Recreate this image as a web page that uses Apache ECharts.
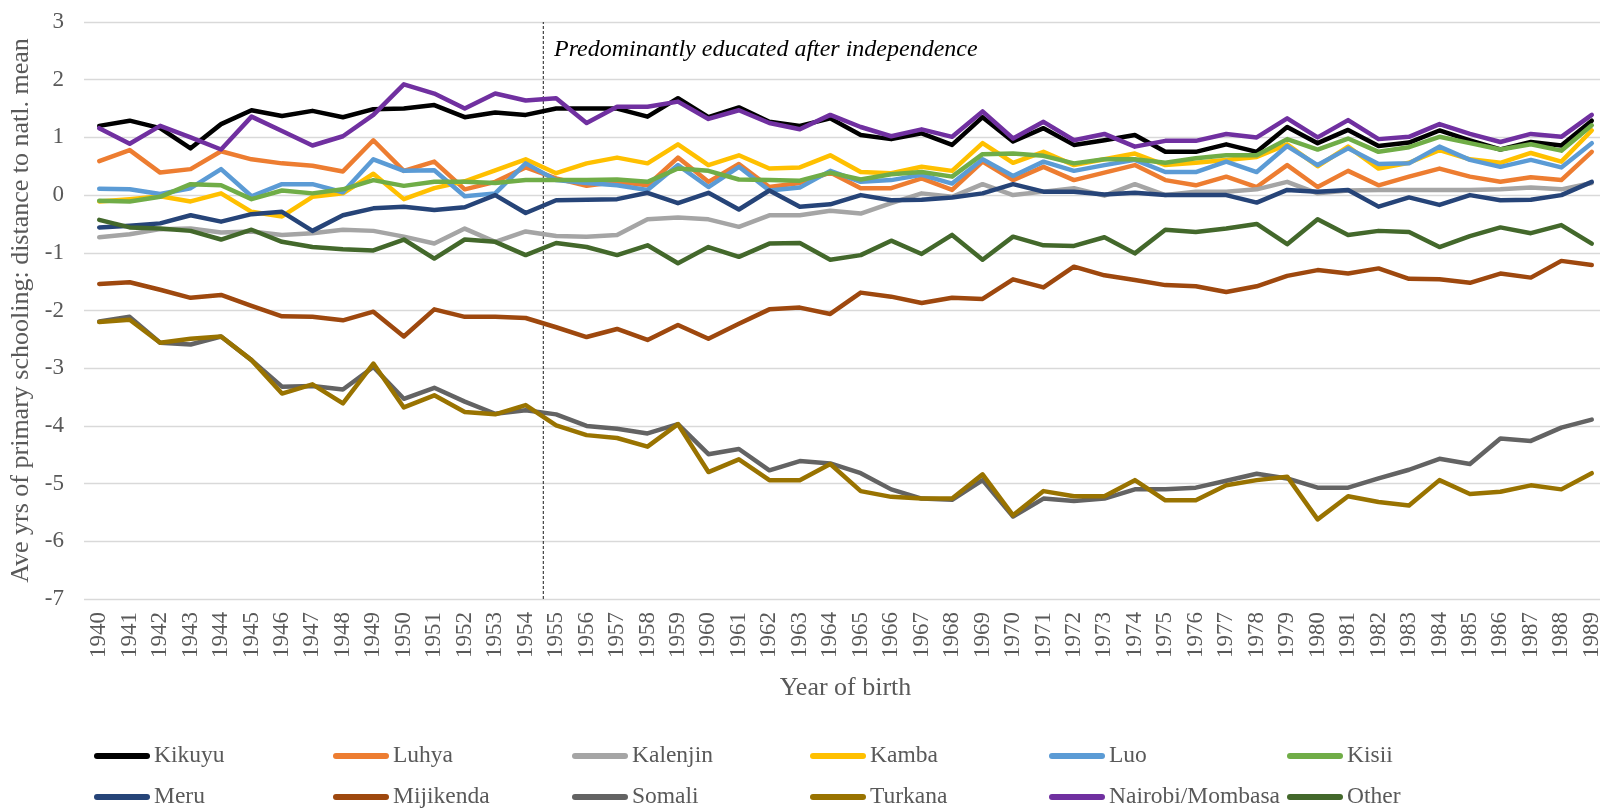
<!DOCTYPE html>
<html><head><meta charset="utf-8">
<script src="https://cdn.jsdelivr.net/npm/echarts@6/dist/echarts.min.js"></script>
<style>html,body{margin:0;padding:0;background:#fff}#c{width:1600px;height:808px}</style>
</head><body><div id="c"></div>
<script>
const years = ['1940','1941','1942','1943','1944','1945','1946','1947','1948','1949',
'1950','1951','1952','1953','1954','1955','1956','1957','1958','1959',
'1960','1961','1962','1963','1964','1965','1966','1967','1968','1969',
'1970','1971','1972','1973','1974','1975','1976','1977','1978','1979',
'1980','1981','1982','1983','1984','1985','1986','1987','1988','1989'];

const kikuyu = [1.2,1.29,1.16,0.81,1.23,1.47,1.37,1.46,1.35,1.49,1.5,1.56,1.35,1.43,1.39,
1.5,1.5,1.5,1.36,1.68,1.35,1.52,1.27,1.2,1.33,1.04,0.97,1.07,0.87,1.35,0.93,
1.16,0.87,0.95,1.04,0.75,0.75,0.88,0.75,1.18,0.9,1.13,0.85,0.91,1.12,0.95,0.79,0.92,0.86,1.29];
const luhya = [0.59,0.78,0.39,0.45,0.76,0.62,0.55,0.51,0.41,0.95,0.42,0.58,0.1,0.23,0.48,
0.29,0.16,0.23,0.17,0.65,0.23,0.54,0.14,0.21,0.39,0.12,0.12,0.29,0.09,0.58,0.26,
0.49,0.26,0.39,0.52,0.26,0.17,0.32,0.14,0.52,0.14,0.42,0.17,0.32,0.46,0.32,0.23,0.31,0.26,0.75];
const kalenjin = [-0.73,-0.68,-0.59,-0.58,-0.65,-0.63,-0.69,-0.66,-0.6,-0.62,-0.72,-0.84,-0.58,-0.81,-0.63,
-0.71,-0.72,-0.69,-0.42,-0.39,-0.42,-0.55,-0.35,-0.35,-0.27,-0.32,-0.14,0.03,-0.03,0.19,0.0,
0.06,0.12,-0.01,0.19,0.0,0.06,0.06,0.1,0.23,0.03,0.08,0.09,0.09,0.09,0.09,0.1,0.13,0.1,0.21];
const kamba = [-0.11,-0.07,-0.02,-0.11,0.03,-0.29,-0.37,-0.03,0.03,0.37,-0.07,0.12,0.24,0.43,0.62,
0.38,0.55,0.65,0.55,0.88,0.52,0.69,0.46,0.48,0.69,0.4,0.38,0.49,0.42,0.9,0.56,
0.75,0.52,0.62,0.72,0.52,0.56,0.61,0.66,0.88,0.5,0.84,0.46,0.56,0.78,0.62,0.56,0.73,0.58,1.12];
const luo = [0.11,0.1,0.02,0.12,0.45,-0.02,0.19,0.19,0.05,0.62,0.42,0.43,-0.02,0.03,0.55,
0.26,0.21,0.17,0.09,0.52,0.14,0.49,0.08,0.13,0.42,0.23,0.26,0.35,0.2,0.62,0.33,
0.58,0.42,0.52,0.61,0.4,0.4,0.58,0.4,0.85,0.52,0.81,0.54,0.55,0.84,0.61,0.49,0.61,0.48,0.9];
const kisii = [-0.1,-0.11,-0.03,0.19,0.17,-0.07,0.08,0.03,0.1,0.26,0.16,0.23,0.23,0.21,0.26,
0.26,0.26,0.27,0.23,0.46,0.42,0.27,0.26,0.25,0.39,0.27,0.36,0.4,0.32,0.71,0.72,
0.68,0.55,0.62,0.62,0.56,0.64,0.69,0.69,0.97,0.79,0.98,0.75,0.83,1.01,0.9,0.79,0.88,0.77,1.21];
const meru = [-0.56,-0.53,-0.49,-0.35,-0.46,-0.33,-0.29,-0.62,-0.35,-0.23,-0.2,-0.26,-0.21,0.0,-0.31,
-0.09,-0.08,-0.07,0.04,-0.14,0.04,-0.25,0.08,-0.2,-0.16,0.0,-0.09,-0.08,-0.04,0.03,0.19,
0.06,0.06,0.01,0.04,0.0,0.0,0.0,-0.13,0.09,0.06,0.09,-0.2,-0.04,-0.17,0.0,-0.09,-0.08,0.0,0.23];
const mijikenda = [-1.54,-1.51,-1.64,-1.78,-1.73,-1.92,-2.1,-2.11,-2.17,-2.02,-2.45,-1.98,-2.11,-2.11,-2.13,
-2.29,-2.46,-2.32,-2.51,-2.25,-2.49,-2.23,-1.98,-1.95,-2.06,-1.69,-1.76,-1.87,-1.78,-1.8,-1.46,
-1.6,-1.24,-1.39,-1.47,-1.56,-1.58,-1.68,-1.58,-1.4,-1.3,-1.36,-1.27,-1.45,-1.46,-1.52,-1.36,-1.43,-1.14,-1.21];
const somali = [-2.19,-2.11,-2.56,-2.59,-2.45,-2.86,-3.32,-3.31,-3.37,-2.98,-3.53,-3.34,-3.58,-3.79,-3.73,
-3.8,-4.0,-4.05,-4.13,-3.97,-4.49,-4.4,-4.77,-4.61,-4.65,-4.82,-5.1,-5.26,-5.28,-4.94,-5.57,
-5.26,-5.3,-5.26,-5.1,-5.1,-5.07,-4.95,-4.83,-4.91,-5.07,-5.07,-4.91,-4.76,-4.57,-4.66,-4.22,-4.26,-4.03,-3.89];
const turkana = [-2.2,-2.16,-2.56,-2.49,-2.45,-2.86,-3.44,-3.28,-3.61,-2.92,-3.68,-3.47,-3.76,-3.8,-3.64,
-3.99,-4.16,-4.21,-4.36,-3.97,-4.8,-4.58,-4.94,-4.94,-4.66,-5.13,-5.23,-5.26,-5.26,-4.84,-5.55,
-5.13,-5.22,-5.22,-4.94,-5.29,-5.29,-5.03,-4.94,-4.88,-5.62,-5.22,-5.32,-5.38,-4.94,-5.18,-5.14,-5.03,-5.1,-4.82];
const nairobiMombasa = [1.16,0.89,1.2,1.0,0.79,1.36,1.11,0.86,1.02,1.39,1.92,1.76,1.5,1.76,1.64,
1.68,1.25,1.53,1.53,1.62,1.32,1.47,1.25,1.14,1.39,1.18,1.02,1.14,1.01,1.45,0.98,
1.27,0.95,1.06,0.84,0.94,0.94,1.06,1.0,1.33,1.0,1.3,0.97,1.01,1.23,1.06,0.92,1.06,1.01,1.39];
const other = [-0.43,-0.56,-0.58,-0.62,-0.77,-0.6,-0.81,-0.9,-0.94,-0.96,-0.77,-1.1,-0.77,-0.81,-1.04,
-0.83,-0.9,-1.04,-0.87,-1.18,-0.9,-1.07,-0.84,-0.83,-1.12,-1.04,-0.79,-1.02,-0.69,-1.12,-0.72,
-0.87,-0.88,-0.73,-1.01,-0.6,-0.64,-0.58,-0.5,-0.85,-0.42,-0.69,-0.62,-0.64,-0.9,-0.71,-0.56,-0.66,-0.52,-0.84];

const seriesNames = ['Kikuyu','Luhya','Kalenjin','Kamba','Luo','Kisii','Meru','Mijikenda','Somali','Turkana','Nairobi/Mombasa','Other'];
const seriesValues = [kikuyu,luhya,kalenjin,kamba,luo,kisii,meru,mijikenda,somali,turkana,nairobiMombasa,other];
const seriesColors = ['#000000','#ED7D31','#A5A5A5','#FFC000','#5B9BD5','#70AD47','#264478','#9E480E','#636363','#997300','#7030A0','#43682B'];

const yTicks = {min:-7, max:3, step:1};
const independenceCutoff = 1954.58;
const annotationText = 'Predominantly educated after independence';
const yAxisTitle = 'Ave yrs of primary schooling: distance to natl. mean';
const xAxisTitle = 'Year of birth';

const FONT = '"Liberation Serif","Times New Roman",serif';
const chart = echarts.init(document.getElementById('c'), null, {renderer:'canvas'});

const colX = [94, 333, 572, 810, 1049, 1287];
const rowY = [744, 785];
const legends = seriesNames.map((n,i)=>({
  data:[n], left: colX[i%6], top: rowY[Math.floor(i/6)],
  orient:'horizontal', padding:0, itemGap:0,
  itemWidth:56, itemHeight:6,
  icon:'path://M3,0 L53,0 A3,3 0 0 1 53,6 L3,6 A3,3 0 0 1 3,0 Z',
  itemStyle:{borderWidth:0},
  textStyle:{fontFamily:FONT, fontSize:23.5, color:'#595959', padding:[0,0,0,-1]}
}));

const series = seriesNames.map((n,i)=>({
  name:n, type:'line', data:seriesValues[i], symbol:'none', showSymbol:false,
  xAxisIndex:0, yAxisIndex:0,
  itemStyle:{color:seriesColors[i], borderWidth:0},
  lineStyle:{color:seriesColors[i], width:4.5, cap:'round', join:'round'},
  emphasis:{disabled:true}, animation:false, z:2+i
}));
series.push({
  name:'cutoff', type:'line', xAxisIndex:1, yAxisIndex:0, symbol:'none',
  data:[[independenceCutoff, yTicks.min],[independenceCutoff, yTicks.max]],
  lineStyle:{color:'#404040', width:1.2, type:[3,2]}, silent:true, animation:false, z:1
});

chart.setOption({
  backgroundColor:'#ffffff',
  animation:false,
  grid:{left:84, top:22, width:1523, height:577, containLabel:false, outerBoundsMode:'none'},
  legend: legends,
  xAxis:[{
    type:'category', data:years, boundaryGap:true,
    axisLine:{show:false}, axisTick:{show:false},
    axisLabel:{rotate:90, interval:0, margin:13, fontFamily:FONT, fontSize:23, color:'#595959'},
    name:xAxisTitle, nameLocation:'middle', nameGap:76,
    nameTextStyle:{fontFamily:FONT, fontSize:26, color:'#595959', verticalAlign:'top'}
  },{
    type:'value', min:1939.5, max:1989.5, show:false
  }],
  yAxis:{
    type:'value', min:yTicks.min, max:yTicks.max, interval:yTicks.step,
    axisLine:{show:false}, axisTick:{show:false},
    splitLine:{lineStyle:{color:'#D9D9D9', width:1.3}},
    axisLabel:{margin:20, fontFamily:FONT, fontSize:23, color:'#595959'},
    name:yAxisTitle, nameLocation:'middle', nameGap:50,
    nameTextStyle:{fontFamily:FONT, fontSize:26, color:'#595959'}
  },
  graphic:[{
    type:'text', left:554, top:38,
    style:{text:annotationText, font:'italic 24px "Liberation Serif", serif', fill:'#000000'}
  }],
  series: series
});
</script></body></html>
